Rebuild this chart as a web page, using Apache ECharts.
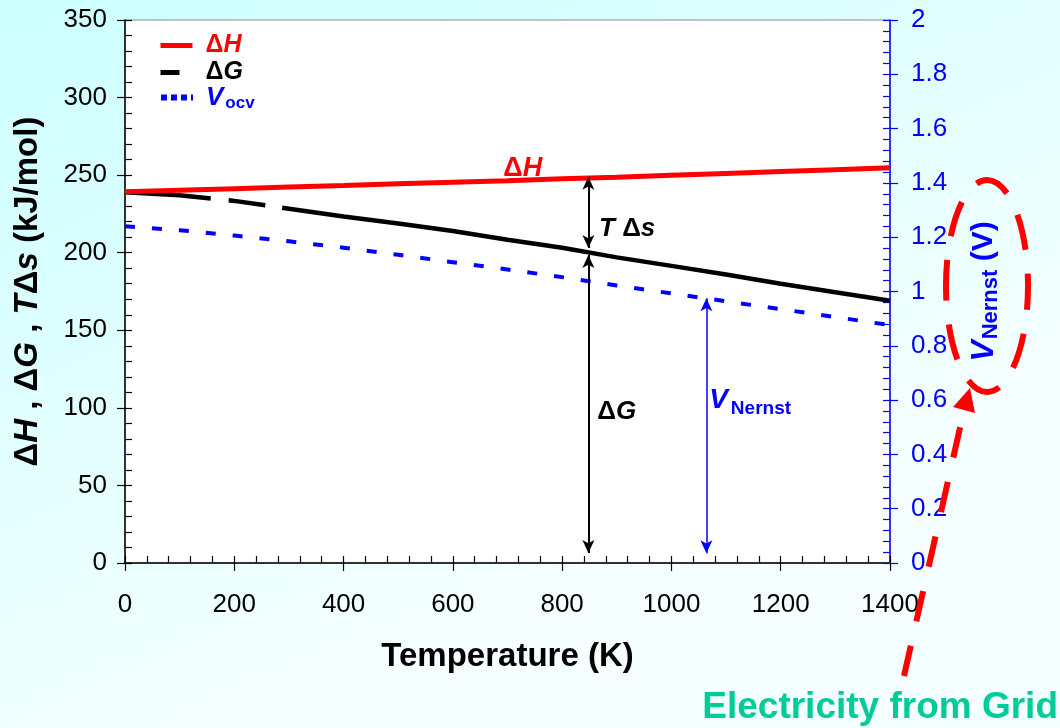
<!DOCTYPE html>
<html>
<head>
<meta charset="utf-8">
<script src="https://cdn.jsdelivr.net/npm/echarts@6/dist/echarts.min.js"></script>
<style>
html,body{margin:0;padding:0;}
#chart{width:1060px;height:728px;}
</style>
</head>
<body>
<div id="chart"></div>
<script>
// ---- data ----
const temps = [0, 100, 200, 300, 400, 500, 600, 700, 800, 900, 1000, 1100, 1200, 1300, 1400];
const dH    = [239.3, 240.3, 241.3, 242.3, 243.3, 244.4, 245.4, 246.4, 247.6, 248.7, 249.9, 251.1, 252.3, 253.5, 254.7];
const dG    = [239, 237, 233.4, 228.4, 223.3, 218.8, 214, 208.4, 203.2, 197, 191.5, 186, 180, 174.5, 169];
const vOcv  = [1.24, 1.226, 1.206, 1.185, 1.161, 1.135, 1.108, 1.081, 1.053, 1.022, 0.993, 0.964, 0.935, 0.906, 0.876];

// annotation arrows (value coordinates)
const arrowTds = [[848, 249], [848, 203]];
const arrowDG  = [[848, 198.5], [848, 6.5]];
const arrowV   = [[1064, 0.975], [1064, 0.036]];

const xTicks = {min: 0, max: 1400, interval: 200};
const yLeft  = {min: 0, max: 350, interval: 50};
const yRight = {min: 0, max: 2, interval: 0.2};

const FONT = 'Arial, "Liberation Sans", sans-serif';
const RED = '#ff0000', BLUE = '#0000ff', BLACK = '#000000';

const zip = (a, b) => a.map((v, i) => [v, b[i]]);

const chart = echarts.init(document.getElementById('chart'), null, {renderer: 'canvas'});

const tickCommon = (color) => ({
  axisLine: {show: true, onZero: false, lineStyle: {color: color, width: 1.5}},
  axisTick: {show: true, inside: true, length: 7, lineStyle: {color: color, width: 1.2}},
  minorTick: {show: true, splitNumber: 5, length: 7, lineStyle: {color: color, width: 1.2}},
  splitLine: {show: false},
  minorSplitLine: {show: false}
});
const outsideTicks = (color) => ({
  axisLine: {show: false, onZero: false},
  axisTick: {show: true, inside: false, length: 8, lineStyle: {color: color, width: 1.2}},
  axisLabel: {show: false},
  splitLine: {show: false}
});

const legendRich = {
  sp: {width: 8},
  rd: {color: RED, fontSize: 25, fontWeight: 'bold', fontFamily: FONT, lineHeight: 22},
  ri: {color: RED, fontSize: 25, fontWeight: 'bold', fontStyle: 'italic', fontFamily: FONT, lineHeight: 22},
  kd: {color: BLACK, fontSize: 25, fontWeight: 'bold', fontFamily: FONT, lineHeight: 22},
  ki: {color: BLACK, fontSize: 25, fontWeight: 'bold', fontStyle: 'italic', fontFamily: FONT, lineHeight: 22},
  bv: {color: BLUE, fontSize: 26, fontWeight: 'bold', fontStyle: 'italic', fontFamily: FONT, lineHeight: 22},
  bs: {color: BLUE, fontSize: 17, fontWeight: 'bold', fontFamily: FONT, padding: [12, 0, 0, 2], lineHeight: 22}
};
const legendFormatter = function (name) {
  if (name === 'ΔH') return '{sp|}{rd|Δ}{ri|H}';
  if (name === 'ΔG') return '{sp|}{kd|Δ}{ki|G}';
  return '{sp|}{bv|V}{bs|ocv}';
};
const makeLegend = (item, top) => ({
  orient: 'vertical', left: 158, top: top, itemWidth: 32, itemHeight: 14, padding: 0,
  selectedMode: false, itemStyle: {opacity: 0},
  data: [item], formatter: legendFormatter,
  textStyle: {fontFamily: FONT, rich: legendRich}
});

const option = {
  animation: false,
  backgroundColor: {
    type: 'linear', x: 0, y: 0, x2: 0.3, y2: 1,
    colorStops: [{offset: 0, color: '#ccffff'}, {offset: 1, color: '#f6ffff'}]
  },
  textStyle: {fontFamily: FONT},
  grid: {left: 125, right: 170, top: 20, bottom: 165, show: true,
         backgroundColor: '#ffffff', borderColor: '#8a8a8a', borderWidth: 1},
  legend: [
    makeLegend({name: 'ΔH', lineStyle: {width: 5}}, 33),
    makeLegend({name: 'ΔG', lineStyle: {type: [19, 60], width: 5}}, 60),
    makeLegend({name: 'Vocv', lineStyle: {type: [6, 4], width: 6}}, 83)
  ],
  xAxis: [
    Object.assign({
      type: 'value', position: 'bottom', min: xTicks.min, max: xTicks.max, interval: xTicks.interval,
      axisLabel: {fontSize: 26, color: BLACK, margin: 29, fontFamily: FONT, formatter: v => String(v)},
      name: 'Temperature (K)', nameLocation: 'middle', nameGap: 77,
      nameTextStyle: {fontSize: 33, fontWeight: 'bold', color: BLACK, fontFamily: FONT}
    }, tickCommon(BLACK)),
    Object.assign({
      type: 'value', position: 'bottom', min: xTicks.min, max: xTicks.max, interval: xTicks.interval
    }, outsideTicks(BLACK))
  ],
  yAxis: [
    Object.assign({
      type: 'value', position: 'left', min: yLeft.min, max: yLeft.max, interval: yLeft.interval,
      axisLabel: {fontSize: 26, color: BLACK, margin: 18, fontFamily: FONT},
      name: '{d|Δ}{i|H}{d| , Δ}{i|G}{d| , }{i|T}{d|Δ}{i|s}{d| (kJ/mol)}',
      nameLocation: 'middle', nameRotate: 90, nameGap: 81,
      nameTextStyle: {
        fontFamily: FONT,
        rich: {
          d: {fontSize: 33, fontWeight: 'bold', color: BLACK, fontFamily: FONT},
          i: {fontSize: 33, fontWeight: 'bold', fontStyle: 'italic', color: BLACK, fontFamily: FONT}
        }
      }
    }, tickCommon(BLACK)),
    Object.assign({
      type: 'value', position: 'right', min: yRight.min, max: yRight.max, interval: yRight.interval,
      axisLabel: {fontSize: 26, color: BLUE, margin: 21, fontFamily: FONT,
                  formatter: v => String(Math.round(v * 10) / 10)},
      name: '{v|V}{s|Nernst}{n| (V)}',
      nameLocation: 'middle', nameRotate: 90, nameGap: 76,
      nameTextStyle: {
        fontFamily: FONT,
        rich: {
          v: {fontSize: 32, fontWeight: 'bold', fontStyle: 'italic', color: BLUE, fontFamily: FONT},
          s: {fontSize: 22, fontWeight: 'bold', color: BLUE, fontFamily: FONT, padding: [14, 0, 0, 1]},
          n: {fontSize: 30, fontWeight: 'bold', color: BLUE, fontFamily: FONT}
        }
      }
    }, tickCommon(BLUE)),
    Object.assign({
      type: 'value', position: 'left', min: yLeft.min, max: yLeft.max, interval: yLeft.interval
    }, outsideTicks(BLACK)),
    Object.assign({
      type: 'value', position: 'right', min: yRight.min, max: yRight.max, interval: yRight.interval
    }, outsideTicks(BLUE))
  ],
  series: [
    {
      name: 'ΔH', type: 'line', xAxisIndex: 0, yAxisIndex: 0, data: zip(temps, dH),
      symbol: 'none', lineStyle: {color: RED, width: 5}, itemStyle: {color: RED}, z: 4,
      markPoint: {
        silent: true, symbol: 'circle', symbolSize: 1, itemStyle: {color: 'rgba(0,0,0,0)'},
        label: {show: true, position: 'inside', formatter: '{d|Δ}{i|H}',
          rich: {
            d: {fontSize: 27, fontWeight: 'bold', color: RED, fontFamily: FONT},
            i: {fontSize: 27, fontWeight: 'bold', fontStyle: 'italic', color: RED, fontFamily: FONT}
          }},
        data: [{coord: [728, 254]}]
      }
    },
    {
      name: 'ΔG', type: 'line', xAxisIndex: 0, yAxisIndex: 0, data: zip(temps, dG),
      symbol: 'none', lineStyle: {color: BLACK, width: 4.5, type: [86, 18, 37, 17, 3000]},
      itemStyle: {color: BLACK}, z: 3,
      markLine: {
        silent: true, symbol: ['arrow', 'arrow'], symbolSize: [9, 13],
        label: {show: false}, lineStyle: {color: BLACK, width: 2, type: 'solid'},
        emphasis: {disabled: true},
        data: [
          [{coord: arrowTds[0]}, {coord: arrowTds[1]}],
          [{coord: arrowDG[0]}, {coord: arrowDG[1]}]
        ]
      },
      markPoint: {
        silent: true, symbol: 'circle', symbolSize: 1, itemStyle: {color: 'rgba(0,0,0,0)'},
        label: {show: true, position: 'inside',
          rich: {
            d: {fontSize: 26, fontWeight: 'bold', color: BLACK, fontFamily: FONT},
            i: {fontSize: 26, fontWeight: 'bold', fontStyle: 'italic', color: BLACK, fontFamily: FONT}
          }},
        data: [
          {coord: [919, 215.3], label: {formatter: '{i|T }{d|Δ}{i|s}'}},
          {coord: [900, 97.3], label: {formatter: '{d|Δ}{i|G}'}}
        ]
      }
    },
    {
      name: 'Vocv', type: 'line', xAxisIndex: 0, yAxisIndex: 1, data: zip(temps, vOcv),
      symbol: 'none', lineStyle: {color: BLUE, width: 4, type: [10, 17]},
      itemStyle: {color: BLUE}, z: 2,
      markLine: {
        silent: true, symbol: ['arrow', 'arrow'], symbolSize: [9, 13],
        label: {show: false}, lineStyle: {color: BLUE, width: 1.5, type: 'solid'},
        emphasis: {disabled: true},
        data: [[{coord: arrowV[0]}, {coord: arrowV[1]}]]
      },
      markPoint: {
        silent: true, symbol: 'circle', symbolSize: 1, itemStyle: {color: 'rgba(0,0,0,0)'},
        label: {show: true, position: 'inside', formatter: '{v|V}{s|Nernst}',
          rich: {
            v: {fontSize: 28, fontWeight: 'bold', fontStyle: 'italic', color: BLUE, fontFamily: FONT},
            s: {fontSize: 19, fontWeight: 'bold', color: BLUE, fontFamily: FONT, padding: [18, 0, 0, 3]}
          }},
        data: [{coord: [1144, 0.6]}]
      }
    }
  ],
  graphic: [
    {
      type: 'ellipse', silent: true, z: 100,
      shape: {cx: 987, cy: 286, rx: 41, ry: 106},
      style: {fill: null, stroke: RED, lineWidth: 6, lineDash: [36, 24], lineDashOffset: 10}
    },
    {
      type: 'line', silent: true, z: 100,
      shape: {x1: 904, y1: 676, x2: 964, y2: 410},
      style: {stroke: RED, lineWidth: 6, lineDash: [31, 25]}
    },
    {
      type: 'polygon', silent: true, z: 100,
      shape: {points: [[953, 407], [970, 388], [975, 413]]},
      style: {fill: RED}
    },
    {
      type: 'text', silent: true, z: 100,
      style: {x: 1058, y: 708, text: 'Electricity from Grid', align: 'right', verticalAlign: 'middle',
              font: 'bold 37px Arial, "Liberation Sans", sans-serif', fill: '#00cc99'}
    }
  ]
};

chart.setOption(option);
</script>
</body>
</html>
